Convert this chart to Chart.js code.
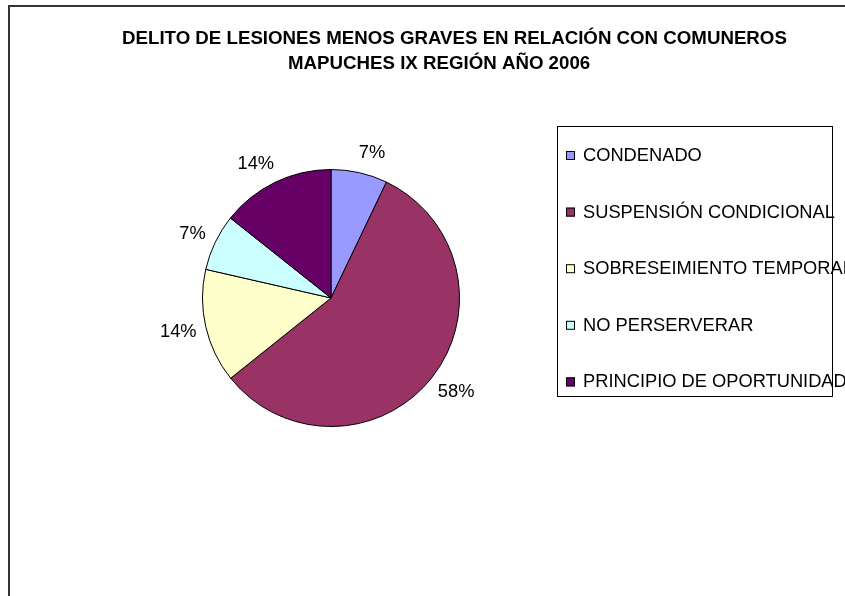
<!DOCTYPE html>
<html>
<head>
<meta charset="utf-8">
<script src="https://cdn.jsdelivr.net/npm/chart.js@4.4.1/dist/chart.umd.min.js"></script>
<style>
  html, body { margin: 0; padding: 0; background: #fff; }
  #wrap { width: 845px; height: 596px; }
</style>
</head>
<body>
<div id="wrap"><canvas id="pieChart" width="845" height="596"></canvas></div>
<script>
// datos del gráfico
const categorias = ['CONDENADO', 'SUSPENSIÓN CONDICIONAL', 'SOBRESEIMIENTO TEMPORAL', 'NO PERSERVERAR', 'PRINCIPIO DE OPORTUNIDAD'];
const participacion = [7.1, 57.1, 14.3, 7.1, 14.3];
const etiquetas = [7, 58, 14, 7, 14];                  // porcentajes impresos en el gráfico
const colores = ['#9999FF', '#993366', '#FFFFCC', '#CCFFFF', '#660066'];
const tituloLineas = ['DELITO DE LESIONES MENOS GRAVES EN RELACIÓN CON COMUNEROS', 'MAPUCHES IX REGIÓN AÑO 2006'];

const FONT = 'Arial, "Liberation Sans", sans-serif';

// marco, título, etiquetas y leyenda estilo Excel
const extras = {
    id: 'extras',
    afterDraw(chart) {
        const c = chart.ctx;
        c.save();

        // borde exterior (solo arriba e izquierda visibles)
        c.strokeStyle = '#333';
        c.lineWidth = 2;
        c.beginPath();
        c.moveTo(9, 600);
        c.lineTo(9, 6);
        c.lineTo(850, 6);
        c.stroke();

        // título
        c.fillStyle = '#000';
        c.textAlign = 'left';
        c.textBaseline = 'middle';
        c.font = 'bold 18.7px ' + FONT;
        c.fillText(tituloLineas[0], 122, 39);
        c.fillText(tituloLineas[1], 288, 64);

        // etiquetas de porcentaje fuera de cada porción
        const meta = chart.getDatasetMeta(0);
        c.textAlign = 'center';
        c.font = '18.3px ' + FONT;
        meta.data.forEach((arc, i) => {
            const p = arc.getProps(['x', 'y', 'startAngle', 'endAngle', 'outerRadius'], true);
            const mid = (p.startAngle + p.endAngle) / 2;
            const dx = Math.cos(mid), dy = Math.sin(mid);
            const txt = etiquetas[i] + '%';
            const w = c.measureText(txt).width, h = 13;
            const r = p.outerRadius + 15;
            c.fillText(txt, p.x + dx * r + Math.sign(dx) * w * 0.35, p.y + dy * r + dy * h / 2 + 1);
        });

        // leyenda
        c.strokeStyle = '#000';
        c.lineWidth = 1;
        c.strokeRect(557.5, 126.5, 275, 270);
        c.textAlign = 'left';
        categorias.forEach((lab, i) => {
            const y = 155 + i * 56.6;
            c.fillStyle = colores[i];
            c.fillRect(566, y - 4, 9, 9);
            c.strokeStyle = '#000';
            c.strokeRect(566.5, y - 3.5, 8, 8);
            c.fillStyle = '#000';
            c.fillText(lab, 583, y + 1);
        });

        c.restore();
    }
};

new Chart(document.getElementById('pieChart'), {
    type: 'pie',
    data: {
        labels: categorias,
        datasets: [{
            data: participacion,
            backgroundColor: colores,
            borderColor: '#000',
            borderWidth: 1
        }]
    },
    options: {
        responsive: false,
        animation: false,
        layout: { padding: { left: 202, right: 385, top: 169, bottom: 169 } },
        plugins: {
            legend: { display: false },
            tooltip: { enabled: false },
            title: { display: false }
        }
    },
    plugins: [extras]
});
</script>
</body>
</html>
